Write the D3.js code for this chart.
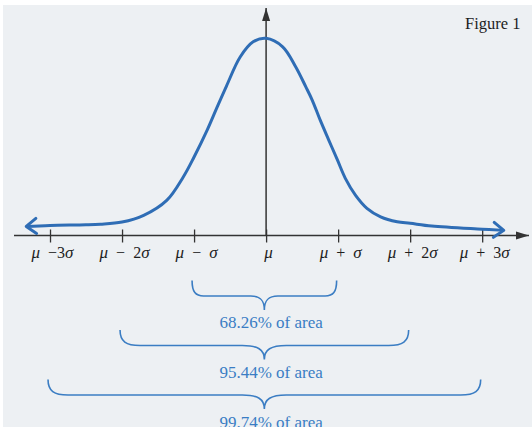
<!DOCTYPE html>
<html>

<head>
    <script src="https://d3js.org/d3.v7.min.js"></script>
    <style>
        body {
            margin: 0;
            background: #ffffff;
        }
    </style>
</head>

<body>
    <svg id="chart" width="532" height="427"></svg>

    <script>
        // positions along the axis, in sigma units
        var sigmaTicks = [-3, -2, -1, 0, 1, 2, 3];
        var tickLabels = ["μ −3σ", "μ − 2σ", "μ − σ", "μ", "μ + σ", "μ + 2σ", "μ + 3σ"];

        // bell curve (z in sigma, height as share of the peak)
        var curveZ = [-3.33, -3.0, -2.5, -2.3, -2.0, -1.7, -1.38, -1.15, -1.0, -0.82, -0.68, -0.55, -0.36, -0.18, 0,
            0.23, 0.41, 0.55, 0.64, 0.75, 0.87, 0.99, 1.1, 1.24, 1.4, 1.59, 1.82, 2.0, 2.3, 3.0, 3.3];
        var curveH = [0.046, 0.051, 0.054, 0.057, 0.068, 0.102, 0.178, 0.297, 0.398, 0.533, 0.651, 0.758, 0.905, 0.982, 1.0,
            0.957, 0.856, 0.755, 0.687, 0.586, 0.484, 0.383, 0.29, 0.205, 0.138, 0.095, 0.07, 0.062, 0.048, 0.032, 0.026];

        // braces under the axis
        var braceSpans = [1, 2, 3];
        var braceLabels = ["68.26% of area", "95.44% of area", "99.74% of area"];

        var width = 532, height = 427;
        var serif = "'Liberation Serif', 'Times New Roman', serif";
        var svg = d3.select("#chart");

        var x = d3.scaleLinear().domain([-3.5, 3.65]).range([14, 529]);
        var y = d3.scaleLinear().domain([0, 1]).range([235.5, 38.3]);
        var axisY = y(0);

        // paper background
        svg.append("rect")
            .attr("x", 3).attr("y", 5)
            .attr("width", width - 3).attr("height", height - 5)
            .attr("fill", "#edf0f3");

        var defs = svg.append("defs");

        defs.append("marker")
            .attr("id", "solid")
            .attr("markerUnits", "userSpaceOnUse")
            .attr("viewBox", "-14 -5 15 10")
            .attr("markerWidth", 15).attr("markerHeight", 10)
            .attr("refX", 0).attr("refY", 0)
            .attr("orient", "auto")
            .append("path")
            .attr("d", "M-13,-4L0,0L-13,4Z")
            .attr("fill", "#333");

        defs.append("marker")
            .attr("id", "open")
            .attr("markerUnits", "userSpaceOnUse")
            .attr("viewBox", "-14 -10 18 20")
            .attr("markerWidth", 18).attr("markerHeight", 20)
            .attr("refX", 0).attr("refY", 0)
            .attr("orient", "auto-start-reverse")
            .append("path")
            .attr("d", "M-10,-7.5L0,0L-10,7.5")
            .attr("fill", "none")
            .attr("stroke", "#2f6db5")
            .attr("stroke-width", 3)
            .attr("stroke-linecap", "round")
            .attr("stroke-linejoin", "round");

        // horizontal axis with labels
        var xAxis = d3.axisBottom(x)
            .tickValues(sigmaTicks)
            .tickSize(7)
            .tickFormat(function (d, i) { return tickLabels[i]; });

        var gx = svg.append("g")
            .attr("transform", "translate(0," + axisY + ")")
            .call(xAxis)
            .attr("font-size", 15.5)
            .attr("font-family", serif);

        gx.select(".domain").remove();
        gx.selectAll(".tick line")
            .attr("y1", -6).attr("y2", 7)
            .attr("stroke", "#333").attr("stroke-width", 1.3);

        gx.selectAll(".tick text")
            .attr("y", 22).attr("dy", 0)
            .attr("dx", 2)
            .attr("word-spacing", 4)
            .attr("fill", "#1e1e1e")
            .each(function (d, i) {
                var t = d3.select(this);
                t.text("");
                tickLabels[i].split(/([μσ])/).forEach(function (part) {
                    if (part === "") return;
                    var greek = /[μσ]/.test(part);
                    t.append("tspan")
                        .attr("font-size", greek ? 17 : 16)
                        .attr("font-style", greek ? "italic" : "normal")
                        .text(part);
                });
            });

        svg.append("line")
            .attr("x1", x(-3.5)).attr("x2", x(3.65))
            .attr("y1", axisY).attr("y2", axisY)
            .attr("stroke", "#333").attr("stroke-width", 1.5)
            .attr("marker-end", "url(#solid)");

        svg.append("line")
            .attr("x1", x(0)).attr("x2", x(0))
            .attr("y1", axisY).attr("y2", 8)
            .attr("stroke", "#333").attr("stroke-width", 1.5)
            .attr("marker-end", "url(#solid)");

        // the bell curve
        var line = d3.line()
            .x(function (d) { return x(d[0]); })
            .y(function (d) { return y(d[1]); })
            .curve(d3.curveCatmullRom.alpha(0.5));

        svg.append("path")
            .datum(d3.zip(curveZ, curveH))
            .attr("d", line)
            .attr("fill", "none")
            .attr("stroke", "#2f6db5")
            .attr("stroke-width", 3)
            .attr("marker-start", "url(#open)")
            .attr("marker-end", "url(#open)");

        // curly braces
        function bracePath(x0, x1, yTop, yH, yP) {
            var xm = (x0 + x1) / 2;
            var r = Math.min(20, (x1 - x0) * 0.08);
            var r2 = r + 2;
            return "M" + x0 + "," + yTop +
                "C" + x0 + "," + (yH - 4) + " " + (x0 + r * 0.3) + "," + yH + " " + (x0 + r) + "," + yH +
                "L" + (xm - r2) + "," + yH +
                "C" + (xm - r2 * 0.3) + "," + yH + " " + xm + "," + (yH + 4) + " " + xm + "," + yP +
                "C" + xm + "," + (yH + 4) + " " + (xm + r2 * 0.3) + "," + yH + " " + (xm + r2) + "," + yH +
                "L" + (x1 - r) + "," + yH +
                "C" + (x1 - r * 0.3) + "," + yH + " " + x1 + "," + (yH - 4) + " " + x1 + "," + yTop;
        }

        var braces = svg.selectAll(".brace")
            .data(braceSpans)
            .enter().append("g")
            .attr("class", "brace");

        braces.append("path")
            .attr("d", function (d, i) {
                var top = 280.5 + i * 49.5;
                return bracePath(x(-d) - 2, x(d) - 1.5, top, top + 15.5, top + 29.5);
            })
            .attr("fill", "none")
            .attr("stroke", "#3b7dc3")
            .attr("stroke-width", 1.6);

        braces.append("text")
            .attr("x", x(0) + 5)
            .attr("y", function (d, i) { return 328.3 + i * 50; })
            .attr("text-anchor", "middle")
            .attr("font-family", serif)
            .attr("font-size", 17)
            .attr("fill", "#3a7dc4")
            .text(function (d, i) { return braceLabels[i]; });

        svg.append("text")
            .attr("x", 465).attr("y", 29)
            .attr("font-family", serif)
            .attr("font-size", 16.5)
            .attr("fill", "#1e1e1e")
            .text("Figure 1");
    </script>
</body>

</html>
